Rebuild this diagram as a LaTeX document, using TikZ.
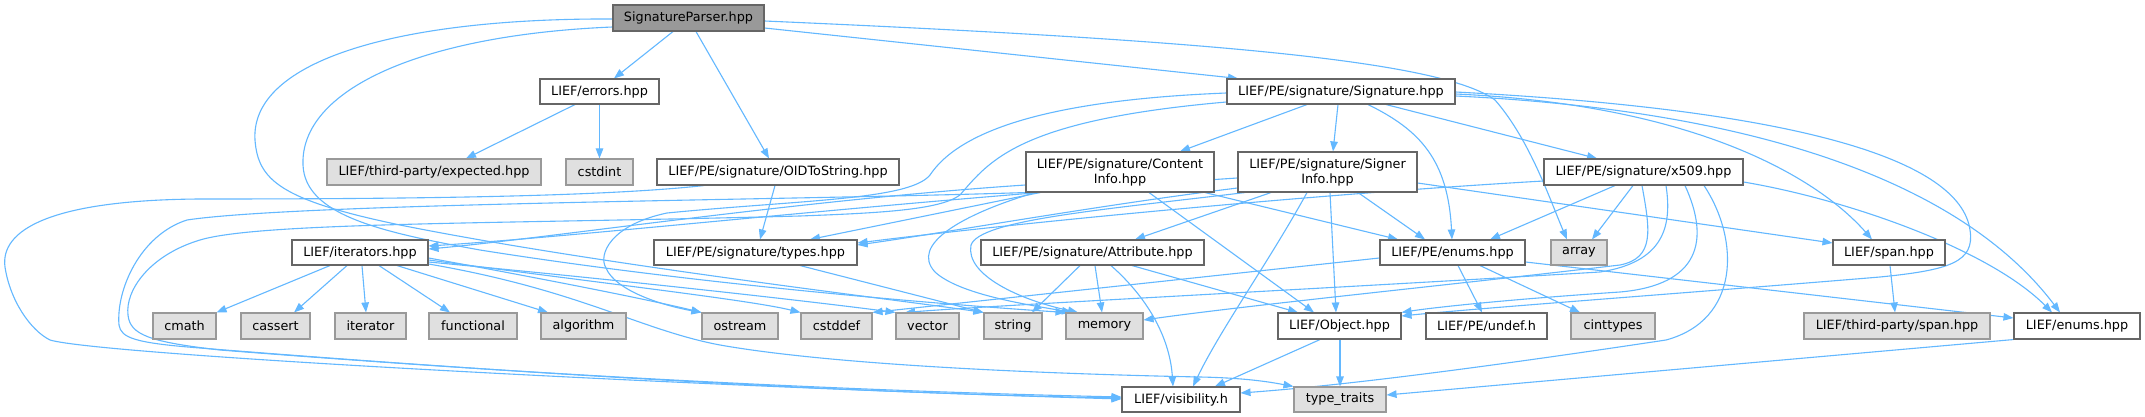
\documentclass[tikz,border=0pt]{standalone}
\usepackage{fontspec}
\setmainfont{DejaVu Sans}
\usetikzlibrary{arrows.meta,backgrounds}
\definecolor{ec}{HTML}{63B8FF}
\definecolor{bdark}{HTML}{666666}
\definecolor{blight}{HTML}{999999}
\definecolor{fgray}{HTML}{E0E0E0}
\definecolor{froot}{HTML}{999999}
\begin{document}
\begin{tikzpicture}[x=1pt,y=-1pt,
  box/.style={rectangle, inner sep=0pt, line width=1.1pt, font=\fontsize{12.8}{15}\selectfont, align=center},
  wbox/.style={box, draw=bdark, fill=white},
  gbox/.style={box, draw=blight, fill=fgray},
  rbox/.style={box, draw=bdark, fill=froot},
  edge/.style={draw=ec, line width=1.1pt, -{Triangle[length=10pt,width=7.5pt]}}]
\useasboundingbox (0,0) rectangle (2145,417);
% row 0
\node[rbox, minimum width=151pt, minimum height=26pt] (SP) at (688.5,18) {SignatureParser.hpp};
% row 1
\node[wbox, minimum width=119pt, minimum height=25pt] (errors) at (599.5,91.5) {LIEF/errors.hpp};
\node[wbox, minimum width=228pt, minimum height=25pt] (Sig) at (1341,91.5) {LIEF/PE/signature/Signature.hpp};
% row 2
\node[gbox, minimum width=214pt, minimum height=26pt] (expected) at (434,172) {LIEF/third-party/expected.hpp};
\node[gbox, minimum width=67pt, minimum height=26pt] (cstdint) at (599.5,172) {cstdint};
\node[wbox, minimum width=242pt, minimum height=26pt] (OID) at (778,172) {LIEF/PE/signature/OIDToString.hpp};
\node[wbox, minimum width=188pt, minimum height=40pt] (Content) at (1120,172) {LIEF/PE/signature/Content\\Info.hpp};
\node[wbox, minimum width=179pt, minimum height=40pt] (Signer) at (1327.5,172) {LIEF/PE/signature/Signer\\Info.hpp};
\node[wbox, minimum width=199pt, minimum height=26pt] (x509) at (1643.5,172) {LIEF/PE/signature/x509.hpp};
% row 3
\node[wbox, minimum width=136pt, minimum height=25pt] (iter) at (360,252.5) {LIEF/iterators.hpp};
\node[wbox, minimum width=203pt, minimum height=25pt] (types) at (755.5,252.5) {LIEF/PE/signature/types.hpp};
\node[wbox, minimum width=223pt, minimum height=25pt] (Attr) at (1092.5,252.5) {LIEF/PE/signature/Attribute.hpp};
\node[wbox, minimum width=145pt, minimum height=25pt] (PEenums) at (1452.5,252.5) {LIEF/PE/enums.hpp};
\node[gbox, minimum width=56pt, minimum height=25pt] (array) at (1579,252.5) {array};
\node[wbox, minimum width=112pt, minimum height=25pt] (span) at (1889,252.5) {LIEF/span.hpp};
% row 4
\node[gbox, minimum width=63pt, minimum height=26pt] (cmath) at (184.5,326) {cmath};
\node[gbox, minimum width=69pt, minimum height=26pt] (cassert) at (275.5,326) {cassert};
\node[gbox, minimum width=71pt, minimum height=26pt] (iterator) at (370.5,326) {iterator};
\node[gbox, minimum width=88pt, minimum height=26pt] (functional) at (473,326) {functional};
\node[gbox, minimum width=85pt, minimum height=26pt] (algorithm) at (583.5,326) {algorithm};
\node[gbox, minimum width=76pt, minimum height=26pt] (ostream) at (740,326) {ostream};
\node[gbox, minimum width=71pt, minimum height=26pt] (cstddef) at (836.5,326) {cstddef};
\node[gbox, minimum width=63pt, minimum height=26pt] (vector) at (927.5,326) {vector};
\node[gbox, minimum width=58pt, minimum height=26pt] (string) at (1013,326) {string};
\node[gbox, minimum width=77pt, minimum height=26pt] (memory) at (1104.5,326) {memory};
\node[wbox, minimum width=123pt, minimum height=26pt] (Object) at (1339.5,326) {LIEF/Object.hpp};
\node[wbox, minimum width=121pt, minimum height=26pt] (undef) at (1486.5,326) {LIEF/PE/undef.h};
\node[gbox, minimum width=84pt, minimum height=26pt] (cinttypes) at (1613,326) {cinttypes};
\node[gbox, minimum width=186pt, minimum height=26pt] (tpspan) at (1897,326) {LIEF/third-party/span.hpp};
\node[wbox, minimum width=126pt, minimum height=26pt] (enums) at (2077,326) {LIEF/enums.hpp};
% row 5
\node[wbox, minimum width=118pt, minimum height=25pt] (vis) at (1181,399.5) {LIEF/visibility.h};
\node[gbox, minimum width=92pt, minimum height=25pt] (tt) at (1340,399.5) {type\_traits};

\begin{scope}[on background layer]
\fill[white] (0,0) rectangle (2145,417);
% SignatureParser
\draw[edge] (SP.south -| 673,0) -- (errors.north -| 614,0);
\draw[edge] (SP.south -| 696,0) -- (OID.north -| 769,0);
\draw[edge] (SP.east |- 0,28) -- (Sig.north -| 1238,0);
\draw[edge] (SP.east |- 0,21) .. controls (1200,40) and (1440,60) .. (1495,100) .. controls (1530,140) and (1550,200) .. (array.north -| 1567,0);
\draw[edge] (SP.west |- 0,19) .. controls (400,18) and (250,60) .. (255,140) .. controls (258,180) and (280,200) .. (400,225) .. controls (600,265) and (900,300) .. (string.north west);
\draw[edge] (SP.west |- 0,27) .. controls (420,35) and (300,90) .. (303,165) .. controls (305,215) and (380,232) .. (480,250) .. controls (700,285) and (950,305) .. (memory.north west);
% errors
\draw[edge] (errors.south -| 575,0) -- (expected.north -| 466,0);
\draw[edge] (errors.south -| 599.5,0) -- (cstdint.north -| 599.5,0);
% OIDToString
\draw[edge] (OID.south -| 775,0) -- (types.north -| 760,0);
\draw[edge] (OID.south -| 704,0) .. controls (600,197) and (400,199) .. (200,199) .. controls (50,200) and (0,230) .. (5,267) .. controls (10,300) and (30,330) .. (50,340) .. controls (100,355) and (700,387) .. (vis.west |- 0,399);
% Signature
\draw[edge] (Sig.south -| 1307,0) -- (Content.north -| 1180,0);
\draw[edge] (Sig.south -| 1338,0) -- (Signer.north -| 1333,0);
\draw[edge] (Sig.south -| 1386,0) -- (x509.north -| 1597,0);
\draw[edge] (Sig.south -| 1368,0) .. controls (1420,130) and (1448,160) .. (PEenums.north -| 1452,0);
\draw[edge] (Sig.east |- 0,94) .. controls (1700,105) and (1820,180) .. (span.north -| 1872,0);
\draw[edge] (Sig.east |- 0,96) .. controls (1750,110) and (1960,180) .. (enums.north -| 2060,0);
\draw[edge] (Sig.east |- 0,92) .. controls (1800,110) and (1960,160) .. (1970,230) .. controls (1975,262) and (1950,270) .. (1880,277) .. controls (1700,292) and (1480,308) .. (Object.east |- 0,316);
\draw[edge] (Sig.west |- 0,102) .. controls (1020,120) and (990,160) .. (960,195) .. controls (940,210) and (880,213) .. (800,216) .. controls (500,224) and (260,222) .. (200,240) .. controls (150,255) and (125,290) .. (128,315) .. controls (130,335) and (150,342) .. (220,350) .. controls (600,380) and (900,392) .. (vis.west |- 0,397);
\draw[edge] (Sig.west |- 0,93) .. controls (1050,100) and (960,130) .. (930,175) .. controls (910,200) and (800,200) .. (667,213) .. controls (610,225) and (598,255) .. (606,268) .. controls (615,290) and (660,305) .. (ostream.north west);
% ContentInfo
\draw[edge] (Content.west |- 0,185) .. controls (800,200) and (550,238) .. (iter.east |- 0,249);
\draw[edge] (Content.south west) .. controls (800,200) and (300,203) .. (187,220) .. controls (140,235) and (116,290) .. (119,325) .. controls (121,338) and (135,343) .. (200,348) .. controls (600,380) and (900,394) .. (vis.west |- 0,398);
\draw[edge] (Content.south -| 1040,0) -- (types.north -| 810,0);
\draw[edge] (Content.south -| 1035,0) .. controls (960,215) and (910,245) .. (935,272) .. controls (960,295) and (1030,305) .. (memory.north -| 1072,0);
\draw[edge] (Content.south -| 1149,0) -- (Object.north -| 1314,0);
\draw[edge] (Content.south -| 1205,0) -- (PEenums.north -| 1398,0);
% SignerInfo
\draw[edge] (Signer.west |- 0,178) .. controls (900,200) and (600,235) .. (iter.east |- 0,246);
\draw[edge] (Signer.west |- 0,188) .. controls (1100,205) and (950,232) .. (types.east |- 0,245);
\draw[edge] (Signer.south -| 1245,0) .. controls (1100,210) and (980,220) .. (971,245) .. controls (965,275) and (1020,300) .. (memory.north -| 1078,0);
\draw[edge] (Signer.south -| 1271,0) -- (Attr.north -| 1135,0);
\draw[edge] (Signer.south -| 1307,0) .. controls (1270,260) and (1220,330) .. (vis.north -| 1193,0);
\draw[edge] (Signer.south -| 1330,0) -- (Object.north -| 1336,0);
\draw[edge] (Signer.south -| 1358,0) -- (PEenums.north -| 1425,0);
\draw[edge] (Signer.east |- 0,183) -- (span.west |- 0,243);
% x509
\draw[edge] (x509.west |- 0,181) .. controls (1300,195) and (1000,225) .. (types.east |- 0,243);
\draw[edge] (x509.south -| 1615,0) -- (PEenums.north -| 1490,0);
\draw[edge] (x509.south -| 1633,0) -- (array.north -| 1592,0);
\draw[edge] (x509.south -| 1642,0) .. controls (1650,230) and (1655,258) .. (1620,265) .. controls (1450,285) and (1250,305) .. (memory.east |- 0,320);
\draw[edge] (x509.south -| 1666,0) .. controls (1672,225) and (1665,262) .. (1600,272) .. controls (1300,290) and (1000,305) .. (vector.north -| 905,0);
\draw[edge] (x509.south -| 1685,0) .. controls (1710,240) and (1700,285) .. (1620,292) .. controls (1500,300) and (1430,308) .. (Object.north east);
\draw[edge] (x509.south -| 1704,0) .. controls (1740,240) and (1740,320) .. (1666,340) .. controls (1500,365) and (1350,385) .. (vis.east |- 0,393);
\draw[edge] (x509.east |- 0,182) .. controls (1850,200) and (1990,250) .. (enums.north -| 2052,0);
% PE/enums
\draw[edge] (PEenums.south -| 1458,0) -- (undef.north -| 1482,0);
\draw[edge] (PEenums.south -| 1480,0) -- (cinttypes.north -| 1580,0);
\draw[edge] (PEenums.east |- 0,262) -- (enums.west |- 0,318);
\draw[edge] (PEenums.west |- 0,258) -- (cstddef.north east);
% Attribute
\draw[edge] (Attr.south -| 1080,0) -- (string.north -| 1032,0);
\draw[edge] (Attr.south -| 1095,0) -- (memory.north -| 1102,0);
\draw[edge] (Attr.south -| 1111,0) .. controls (1150,300) and (1170,340) .. (vis.north -| 1173,0);
\draw[edge] (Attr.south -| 1132,0) -- (Object.north -| 1298,0);
% Object, enums, span
\draw[edge] (Object.south -| 1320,0) -- (vis.north -| 1215,0);
\draw[edge] (Object.south -| 1340,0) -- (tt.north -| 1340,0);
\draw[edge] (enums.south west) -- (tt.east |- 0,395);
\draw[edge] (span.south -| 1890,0) -- (tpspan.north -| 1895,0);
% iterators
\draw[edge] (iter.south -| 330,0) -- (cmath.north east);
\draw[edge] (iter.south -| 347,0) -- (cassert.north -| 294,0);
\draw[edge] (iter.south -| 362,0) -- (iterator.north -| 366,0);
\draw[edge] (iter.south -| 379,0) -- (functional.north -| 450,0);
\draw[edge] (iter.south -| 397,0) -- (algorithm.north -| 548,0);
\draw[edge] (iter.east |- 0,258) .. controls (550,280) and (650,300) .. (ostream.north west);
\draw[edge] (iter.east |- 0,260) .. controls (600,283) and (750,300) .. (cstddef.north west);
\draw[edge] (iter.east |- 0,262) .. controls (620,280) and (800,300) .. (vector.north west);
\draw[edge] (iter.east |- 0,264) .. controls (580,290) and (640,330) .. (720,345) .. controls (850,368) and (1100,375) .. (1200,377) .. controls (1250,378) and (1275,383) .. (tt.north west);
% types
\draw[edge] (types.south -| 800,0) -- (string.north west);
\end{scope}
\end{tikzpicture}
\end{document}
